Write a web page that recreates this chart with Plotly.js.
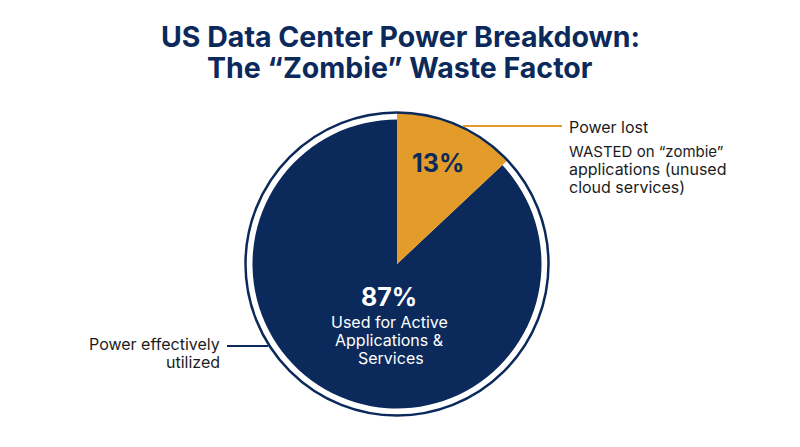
<!DOCTYPE html>
<html>
<head>
<meta charset="utf-8">
<script src="https://cdn.plot.ly/plotly-3.0.1.min.js"></script>
<style>
  html, body { margin: 0; padding: 0; background: #fff; }
</style>
</head>
<body>
<div id="chart" style="width:800px;height:447px;"></div>
<script type="text/javascript">

    /* * Data * */
    var categories = ['Power lost', 'Power effectively utilized'];
    var values = [13, 87];
    var color_navy = '#0b2a5b';
    var color_orange = '#e39c2a';
    var color_text = '#1c1c1c';
    var W = 800, H = 447;

    /* * Pixel helpers, the page is a fixed size * */
    var px = function(x) { return x / W; };
    var py = function(y) { return 1 - y / H; };
    var pieDomain = function(cx, cy, r) {
        return { x: [px(cx - r), px(cx + r)], y: [py(cy + r), py(cy - r)] };
    };

    var cx = 397, cy = 264;

    /* * Two pies: the orange slice reaches the ring, the navy one stays inside it * */
    var basePie = {
        type: 'pie',
        labels: categories,
        values: values,
        sort: false,
        direction: 'clockwise',
        rotation: 0,
        textinfo: 'none',
        hoverinfo: 'label+percent',
        showlegend: false,
        automargin: false
    };

    var data = [
        Object.assign({}, basePie, {
            domain: pieDomain(cx, cy, 144.5),
            marker: { colors: ['rgba(0,0,0,0)', color_navy], line: { width: 0 } }
        }),
        Object.assign({}, basePie, {
            domain: pieDomain(cx, cy, 151),
            marker: { colors: [color_orange, 'rgba(0,0,0,0)'], line: { width: 0 } }
        })
    ];

    var note = function(x, y, text, size, color, anchor, bold) {
        return {
            xref: 'paper', yref: 'paper',
            x: px(x), y: py(y),
            text: bold ? '<b>' + text + '</b>' : text,
            showarrow: false,
            xanchor: anchor,
            yanchor: 'middle',
            align: anchor,
            font: { family: 'Inter, "Noto Sans", sans-serif', size: size, color: color }
        };
    };

    var line = function(x0, y0, x1, y1, color, width) {
        return {
            type: 'line', xref: 'paper', yref: 'paper',
            x0: px(x0), y0: py(y0), x1: px(x1), y1: py(y1),
            line: { color: color, width: width }
        };
    };

    var layout = {
        width: W,
        height: H,
        margin: { l: 0, r: 0, t: 0, b: 0 },
        paper_bgcolor: '#ffffff',
        showlegend: false,
        annotations: [
            note(400, 36, 'US Data Center Power Breakdown:', 28.5, color_navy, 'center', true),
            note(400, 68, 'The “Zombie” Waste Factor', 28.5, color_navy, 'center', true),
            note(438, 163, '13%', 25, color_navy, 'center', true),
            note(389, 297, '87%', 25, '#ffffff', 'center', true),
            note(389, 322, 'Used for Active', 16, '#ffffff', 'center'),
            note(389, 340, 'Applications &', 16, '#ffffff', 'center'),
            note(391, 358, 'Services', 16, '#ffffff', 'center'),
            note(567, 127, 'Power lost', 16, color_text, 'left'),
            note(567, 151, 'WASTED on “zombie”', 15, color_text, 'left'),
            note(567, 169, 'applications (unused', 16, color_text, 'left'),
            note(567, 187, 'cloud services)', 16, color_text, 'left'),
            note(222, 344, 'Power effectively', 16, color_text, 'right'),
            note(222, 362, 'utilized', 16, color_text, 'right')
        ],
        shapes: [
            {
                type: 'circle', xref: 'paper', yref: 'paper',
                x0: px(cx - 151.5), x1: px(cx + 151.5),
                y0: py(cy + 151.5), y1: py(cy - 151.5),
                line: { color: color_navy, width: 2.5 },
                fillcolor: 'rgba(0,0,0,0)'
            },
            line(463, 126, 562, 126, color_orange, 2),
            line(227, 346, 268, 346, color_navy, 2)
        ]
    };

    Plotly.newPlot('chart', data, layout, { displayModeBar: false, staticPlot: true });

</script>
</body>
</html>
